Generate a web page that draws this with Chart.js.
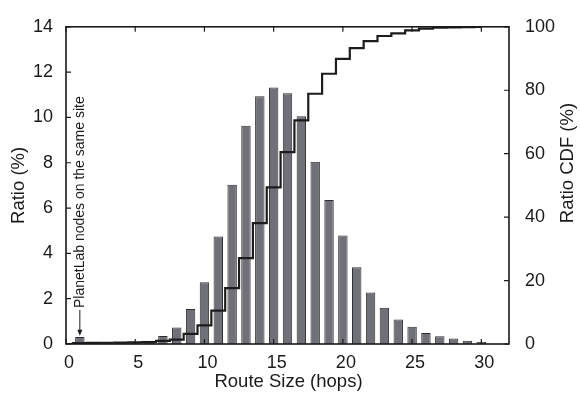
<!DOCTYPE html>
<html>
<head>
<meta charset="utf-8">
<script src="https://cdn.jsdelivr.net/npm/chart.js@4.4.0/dist/chart.umd.min.js"></script>
<style>
  html, body { margin: 0; padding: 0; background: #fff; }
  #wrap { width: 580px; height: 397px; }
</style>
</head>
<body>
<div id="wrap"><canvas id="c" width="580" height="397"></canvas></div>
<script>
// Route size histogram (hops) and its cumulative distribution
const hops = [1, 2, 3, 4, 5, 6, 7, 8, 9, 10, 11, 12, 13, 14, 15,
              16, 17, 18, 19, 20, 21, 22, 23, 24, 25, 26, 27, 28, 29, 30];
const ratio = [0.31, 0.04, 0.03, 0.04, 0.06, 0.14, 0.35, 0.73, 1.54, 2.72,
               4.74, 7.03, 9.63, 10.93, 11.32, 11.07, 10.05, 8.04, 6.36, 4.79,
               3.39, 2.27, 1.60, 1.08, 0.76, 0.49, 0.34, 0.24, 0.14, 0.10];
const cdfHops = [0, 1, 2, 3, 4, 5, 6, 7, 8, 9, 10, 11, 12, 13, 14, 15,
                 16, 17, 18, 19, 20, 21, 22, 23, 24, 25, 26, 27, 28, 29, 30];
const ratioCdf = [0, 0.3, 0.35, 0.4, 0.45, 0.5, 0.6, 1.0, 1.4, 3.2, 5.9,
                  10.5, 17.6, 27.1, 38.1, 49.4, 60.5, 70.5, 78.9, 85.2, 89.9,
                  93.3, 95.5, 97.1, 97.9, 98.9, 99.4, 99.7, 99.8, 99.9, 100];
const xTicks = [0, 5, 10, 15, 20, 25, 30];
const leftTicks = [0, 2, 4, 6, 8, 10, 12, 14];
const rightTicks = [0, 20, 40, 60, 80, 100];

const xTitle = 'Route Size (hops)';
const leftTitle = 'Ratio (%)';
const rightTitle = 'Ratio CDF (%)';
const noteText = 'PlanetLab nodes on the same site';
const noteHop = 1;          // bar the note points at
const noteArrowTip = 0.36;  // ratio value where the arrow ends
const noteArrowStart = 1.5; // ratio value where the arrow begins

const FONT = '"Liberation Sans", Arial, Helvetica, sans-serif';
const INK = '#1a1a1a';

const tickList = list => scale => { scale.ticks = list.map(v => ({ value: v })); };

// Box frame with inward tick marks on all four sides
const framePlugin = {
  id: 'frame',
  afterDatasetsDraw(chart) {
    const { ctx, chartArea: a, scales } = chart;
    const len = 5;
    ctx.save();
    ctx.strokeStyle = INK;
    ctx.lineWidth = 1.2;
    ctx.beginPath();
    xTicks.forEach(v => {
      const px = scales.x.getPixelForValue(v);
      ctx.moveTo(px, a.bottom); ctx.lineTo(px, a.bottom - len);
      ctx.moveTo(px, a.top); ctx.lineTo(px, a.top + len);
    });
    leftTicks.forEach(v => {
      const py = scales.y.getPixelForValue(v);
      ctx.moveTo(a.left, py); ctx.lineTo(a.left + len, py);
    });
    rightTicks.forEach(v => {
      const py = scales.y2.getPixelForValue(v);
      ctx.moveTo(a.right, py); ctx.lineTo(a.right - len, py);
    });
    ctx.stroke();
    ctx.lineWidth = 1.6;
    ctx.strokeRect(a.left, a.top, a.right - a.left, a.bottom - a.top);
    ctx.restore();
  },
  afterDraw(chart) {
    const { ctx, chartArea: a, scales } = chart;
    ctx.save();
    ctx.fillStyle = INK;
    ctx.font = '18.5px ' + FONT;
    ctx.textAlign = 'center';
    ctx.textBaseline = 'middle';
    ctx.fillText(xTitle, (a.left + a.right) / 2 + 1, 381.5);

    ctx.save();
    ctx.translate(19, (a.top + a.bottom) / 2);
    ctx.rotate(-Math.PI / 2);
    ctx.fillText(leftTitle, 0, 0);
    ctx.restore();

    ctx.save();
    ctx.translate(568, 163);
    ctx.rotate(-Math.PI / 2);
    ctx.fillText(rightTitle, 0, 0);
    ctx.restore();

    // note with arrow pointing down at the first bar
    const nx = scales.x.getPixelForValue(noteHop);
    const tipY = scales.y.getPixelForValue(noteArrowTip);
    const startY = scales.y.getPixelForValue(noteArrowStart);
    ctx.strokeStyle = INK;
    ctx.lineWidth = 1;
    ctx.beginPath();
    ctx.moveTo(nx, startY);
    ctx.lineTo(nx, tipY - 4);
    ctx.stroke();
    ctx.beginPath();
    ctx.moveTo(nx, tipY);
    ctx.lineTo(nx - 2.5, tipY - 6);
    ctx.lineTo(nx + 2.5, tipY - 6);
    ctx.closePath();
    ctx.fill();

    ctx.save();
    ctx.translate(nx, startY - 2);
    ctx.rotate(-Math.PI / 2);
    ctx.font = '14px ' + FONT;
    ctx.textAlign = 'left';
    ctx.textBaseline = 'middle';
    ctx.fillText(noteText, 0, 0);
    ctx.restore();

    ctx.restore();
  }
};

new Chart(document.getElementById('c'), {
  data: {
    datasets: [
      {
        type: 'line',
        label: rightTitle,
        data: cdfHops.map((h, i) => ({ x: h, y: ratioCdf[i] })),
        yAxisID: 'y2',
        stepped: 'middle',
        borderColor: '#1c1c1c',
        borderWidth: 2.2,
        pointRadius: 0,
        fill: false,
        order: 0
      },
      {
        type: 'bar',
        label: leftTitle,
        data: hops.map((h, i) => ({ x: h, y: ratio[i] })),
        yAxisID: 'y',
        backgroundColor: '#707078',
        borderColor: '#2e2e2e',
        borderWidth: 1,
        barPercentage: 0.68,
        categoryPercentage: 1,
        order: 1
      }
    ]
  },
  options: {
    responsive: false,
    animation: false,
    devicePixelRatio: 1,
    layout: { padding: { top: 11, left: 0, right: 0, bottom: 0 } },
    plugins: { legend: { display: false }, tooltip: { enabled: false } },
    scales: {
      x: {
        type: 'linear',
        position: 'bottom',
        offset: false,
        min: 0, max: 32,
        afterBuildTicks: tickList(xTicks),
        afterFit: s => { s.height = 53; },
        grid: { display: false, drawTicks: false, offset: false },
        border: { display: false },
        ticks: { color: INK, font: { size: 18, family: FONT }, padding: 8, labelOffset: 3, maxRotation: 0, autoSkip: false }
      },
      y: {
        type: 'linear',
        position: 'left',
        min: 0, max: 14,
        afterBuildTicks: tickList(leftTicks),
        afterFit: s => { s.width = 66; },
        grid: { display: false, drawTicks: false },
        border: { display: false },
        ticks: { color: INK, font: { size: 18, family: FONT }, padding: 13 }
      },
      y2: {
        type: 'linear',
        position: 'right',
        min: 0, max: 100,
        afterBuildTicks: tickList(rightTicks),
        afterFit: s => { s.width = 71; },
        grid: { display: false, drawTicks: false },
        border: { display: false },
        ticks: { color: INK, font: { size: 18, family: FONT }, padding: 16 }
      }
    }
  },
  plugins: [framePlugin]
});
</script>
</body>
</html>
